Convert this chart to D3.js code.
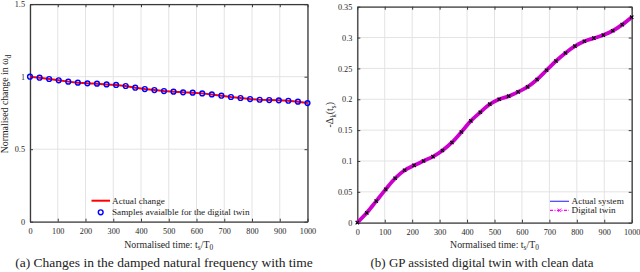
<!DOCTYPE html>
<html>
<head>
<meta charset="utf-8">
<script src="https://cdn.jsdelivr.net/npm/d3@7"></script>
<style>
  body { margin: 0; background: #fff; }
  svg, svg text { font-family: "Liberation Serif", "Times New Roman", "DejaVu Serif", serif !important; }
  .tick text { fill: #262626; font-size: 8.2px; }
</style>
</head>
<body>
<svg id="chart" width="640" height="272"></svg>
<script>
// sample times (normalised time t_s/T_0), same for both panels
var sampleTimes = [0, 34.5, 69.0, 103.4, 137.9, 172.4, 206.9, 241.4, 275.9, 310.3,
    344.8, 379.3, 413.8, 448.3, 482.8, 517.2, 551.7, 586.2, 620.7, 655.2,
    689.7, 724.1, 758.6, 793.1, 827.6, 862.1, 896.6, 931.0, 965.5, 1000];

// panel (a): normalised change in omega_d
var omegaChange = [1.000, 0.993, 0.984, 0.975, 0.966, 0.959, 0.954, 0.952, 0.947, 0.943,
    0.936, 0.924, 0.915, 0.908, 0.901, 0.897, 0.892, 0.890, 0.885, 0.878,
    0.869, 0.860, 0.853, 0.846, 0.841, 0.839, 0.837, 0.834, 0.828, 0.818];

// panel (b): -Delta_k(t_s), actual system and digital twin
var actualSystem = [0.000, 0.016, 0.035, 0.054, 0.072, 0.085, 0.093, 0.100, 0.107, 0.117,
    0.130, 0.147, 0.165, 0.179, 0.192, 0.200, 0.205, 0.212, 0.220, 0.232,
    0.247, 0.262, 0.275, 0.286, 0.294, 0.299, 0.304, 0.311, 0.321, 0.333];
var digitalTwin = [0.000, 0.016, 0.035, 0.054, 0.072, 0.085, 0.093, 0.100, 0.107, 0.117,
    0.130, 0.147, 0.165, 0.179, 0.192, 0.200, 0.205, 0.212, 0.220, 0.232,
    0.247, 0.262, 0.275, 0.286, 0.294, 0.299, 0.304, 0.311, 0.321, 0.333];

var xTicks = [0, 100, 200, 300, 400, 500, 600, 700, 800, 900, 1000];
var yTicksA = [0, 0.5, 1, 1.5];
var yTicksB = [0, 0.05, 0.1, 0.15, 0.2, 0.25, 0.3, 0.35];

var serif = "'Liberation Serif', 'Times New Roman', serif";
var svg = d3.select("#chart");
var axisColor = "#3a3a3a";
var gridColor = "#e3e3e3";
var plain = function(d) { return String(d); };

function drawFrame(g, x, y, yTicks) {
    var x0 = x.range()[0], x1 = x.range()[1];
    var y0 = y.range()[0], y1 = y.range()[1];

    // grid
    g.selectAll(".gx").data(xTicks).enter().append("line")
        .attr("x1", function(d) { return x(d); }).attr("x2", function(d) { return x(d); })
        .attr("y1", y0).attr("y2", y1)
        .style("stroke", gridColor).style("stroke-width", 1);
    g.selectAll(".gy").data(yTicks).enter().append("line")
        .attr("y1", function(d) { return y(d); }).attr("y2", function(d) { return y(d); })
        .attr("x1", x0).attr("x2", x1)
        .style("stroke", gridColor).style("stroke-width", 1);

    // axes with inward ticks
    var bottom = g.append("g").attr("transform", "translate(0," + y0 + ")")
        .call(d3.axisBottom(x).tickValues(xTicks).tickSizeInner(-3).tickSizeOuter(0).tickPadding(6).tickFormat(plain));
    var top = g.append("g").attr("transform", "translate(0," + y1 + ")")
        .call(d3.axisTop(x).tickValues(xTicks).tickSizeInner(-3).tickSizeOuter(0).tickFormat(""));
    var left = g.append("g").attr("transform", "translate(" + x0 + ",0)")
        .call(d3.axisLeft(y).tickValues(yTicks).tickSizeInner(-3).tickSizeOuter(0).tickPadding(5).tickFormat(plain));
    var right = g.append("g").attr("transform", "translate(" + x1 + ",0)")
        .call(d3.axisRight(y).tickValues(yTicks).tickSizeInner(-3).tickSizeOuter(0).tickFormat(""));
    [bottom, top, left, right].forEach(function(a) {
        a.attr("font-family", serif);
        a.selectAll("path").style("stroke", axisColor).style("stroke-width", 1.3);
        a.selectAll("line").style("stroke", axisColor);
    });
}

// ---------- panel (a) ----------
var xA = d3.scaleLinear().domain([0, 1000]).range([30, 307.5]);
var yA = d3.scaleLinear().domain([0, 1.5]).range([221.7, 4.2]);
var gA = svg.append("g");
drawFrame(gA, xA, yA, yTicksA);

var lineA = d3.line()
    .x(function(d, i) { return xA(sampleTimes[i]); })
    .y(function(d) { return yA(d); });

gA.append("path")
    .attr("d", lineA(omegaChange))
    .style("fill", "none")
    .style("stroke", "#ff0000")
    .style("stroke-width", 2);

gA.selectAll(".sample")
    .data(omegaChange)
    .enter().append("circle")
    .attr("class", "sample")
    .attr("cx", function(d, i) { return xA(sampleTimes[i]); })
    .attr("cy", function(d) { return yA(d); })
    .attr("r", 2.4)
    .style("fill", "none")
    .style("stroke", "#0000ff")
    .style("stroke-width", 1.4);

// legend (a)
gA.append("line").attr("x1", 91.5).attr("x2", 110).attr("y1", 200.7).attr("y2", 200.7)
    .style("stroke", "#ff0000").style("stroke-width", 2);
gA.append("text").attr("x", 112).attr("y", 203.8).style("font-size", "9.2px").style("fill", "#1a1a1a")
    .text("Actual change");
gA.append("circle").attr("cx", 100.7).attr("cy", 212.3).attr("r", 2.4)
    .style("fill", "none").style("stroke", "#0000ff").style("stroke-width", 1.4);
gA.append("text").attr("x", 112).attr("y", 215.4).style("font-size", "9.2px").style("fill", "#1a1a1a")
    .text("Samples avaialble for the digital twin");

// labels (a)
var xlabA = gA.append("text").attr("x", 168.7).attr("y", 247.5).attr("text-anchor", "middle")
    .style("font-size", "9.8px").style("fill", "#262626");
xlabA.append("tspan").text("Normalised time: t");
xlabA.append("tspan").attr("dy", 2.8).style("font-size", "7.4px").text("s");
xlabA.append("tspan").attr("dy", -2.8).text("/T");
xlabA.append("tspan").attr("dy", 2.8).style("font-size", "7.4px").text("0");

var ylabA = gA.append("text").attr("transform", "translate(8,104) rotate(-90)")
    .attr("text-anchor", "middle").style("font-size", "9.8px").style("fill", "#262626");
ylabA.append("tspan").text("Normalised change in ω");
ylabA.append("tspan").attr("dy", 2.8).style("font-size", "7.4px").text("d");

svg.append("text").attr("x", 164).attr("y", 266.5).attr("text-anchor", "middle")
    .style("font-size", "13.5px").style("fill", "#222")
    .text("(a) Changes in the damped natural frequency with time");

// ---------- panel (b) ----------
var xB = d3.scaleLinear().domain([0, 1000]).range([357.3, 631.7]);
var yB = d3.scaleLinear().domain([0, 0.35]).range([222.7, 6.7]);
var gB = svg.append("g");
drawFrame(gB, xB, yB, yTicksB);

var lineB = d3.line()
    .curve(d3.curveMonotoneX)
    .x(function(d, i) { return xB(sampleTimes[i]); })
    .y(function(d) { return yB(d); });

gB.append("path")
    .attr("d", lineB(actualSystem))
    .style("fill", "none")
    .style("stroke", "#4040ff")
    .style("stroke-width", 1);

gB.append("path")
    .attr("d", lineB(digitalTwin))
    .style("fill", "none")
    .style("stroke", "#cc00cc")
    .style("stroke-width", 3.8);

var cross = d3.symbol().type(d3.symbolX).size(9);
gB.selectAll(".twinpt")
    .data(digitalTwin)
    .enter().append("path")
    .attr("class", "twinpt")
    .attr("d", cross)
    .attr("transform", function(d, i) { return "translate(" + xB(sampleTimes[i]) + "," + yB(d) + ")"; })
    .style("fill", "#000")
    .style("stroke", "#000")
    .style("stroke-width", 1.1);

// legend (b)
gB.append("line").attr("x1", 550).attr("x2", 569).attr("y1", 201.3).attr("y2", 201.3)
    .style("stroke", "#4040ff").style("stroke-width", 1.2);
gB.append("text").attr("x", 571.5).attr("y", 204.4).style("font-size", "9.2px").style("fill", "#1a1a1a")
    .text("Actual system");
gB.append("line").attr("x1", 550).attr("x2", 569).attr("y1", 210.3).attr("y2", 210.3)
    .style("stroke", "#ff00ff").style("stroke-width", 1.2).style("stroke-dasharray", "3,1.5,1,1.5");
gB.append("path").attr("d", cross).attr("transform", "translate(559.5,210.3)")
    .style("stroke", "#ff00ff").style("stroke-width", 1);
gB.append("text").attr("x", 571.5).attr("y", 213.4).style("font-size", "9.2px").style("fill", "#1a1a1a")
    .text("Digital twin");

// labels (b)
var xlabB = gB.append("text").attr("x", 494.5).attr("y", 247.5).attr("text-anchor", "middle")
    .style("font-size", "9.8px").style("fill", "#262626");
xlabB.append("tspan").text("Normalised time: t");
xlabB.append("tspan").attr("dy", 2.8).style("font-size", "7.4px").text("s");
xlabB.append("tspan").attr("dy", -2.8).text("/T");
xlabB.append("tspan").attr("dy", 2.8).style("font-size", "7.4px").text("0");

var ylabB = gB.append("text").attr("transform", "translate(333,114.7) rotate(-90)")
    .attr("text-anchor", "middle").style("font-size", "9.8px").style("fill", "#262626");
ylabB.append("tspan").text("-Δ");
ylabB.append("tspan").attr("dy", 2.8).style("font-size", "7.4px").text("k");
ylabB.append("tspan").attr("dy", -2.8).text("(t");
ylabB.append("tspan").attr("dy", 2.8).style("font-size", "7.4px").text("s");
ylabB.append("tspan").attr("dy", -2.8).text(")");

svg.append("text").attr("x", 482).attr("y", 266.5).attr("text-anchor", "middle")
    .style("font-size", "13px").style("fill", "#222")
    .text("(b)  GP assisted digital twin with clean data");
</script>
</body>
</html>
